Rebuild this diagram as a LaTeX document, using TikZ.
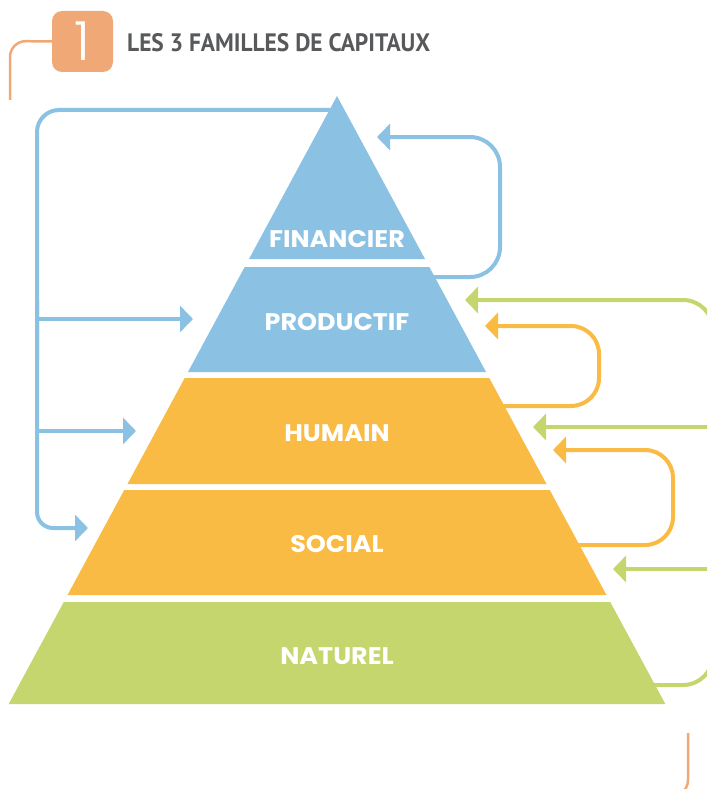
\documentclass[tikz,border=0pt]{standalone}
\usepackage{fontspec}
\setmainfont{Poppins}
\newfontfamily\headfont{PT Sans}
\newfontfamily\digitfont{Poppins Light}
\usetikzlibrary{arrows.meta}

\definecolor{capblue}{HTML}{8BC2E4}
\definecolor{capyellow}{HTML}{F9BB43}
\definecolor{capgreen}{HTML}{C4D66D}
\definecolor{caporange}{HTML}{EFA876}
\definecolor{capgray}{HTML}{58595B}

% one horizontal slice of the pyramid (apex at 337,96; flank slope 0.54)
\newcommand\capband[3]{%
  \fill[#1] ({337-0.54*(#2-96)},#2) -- ({337+0.54*(#2-96)},#2)
         -- ({337+0.54*(#3-96)},#3) -- ({337-0.54*(#3-96)},#3) -- cycle;}
% wide bold lettering for the level names
\newcommand\lvl[1]{\scalebox{1.06}[1]{#1}}

\tikzset{
  link/.style={line width=4pt, rounded corners=#1, line join=round,
               -{Triangle[length=13pt,width=26pt]}},
  link/.default=20pt,
  trunk/.style={line width=4pt, rounded corners=#1, line join=round},
  trunk/.default=20pt,
  bandlabel/.style={text=white, inner sep=0pt,
                    font=\bfseries\fontsize{24}{24}\selectfont},
  frameline/.style={draw=caporange, line width=2.5pt, rounded corners=16pt},
}

\begin{document}
\begin{tikzpicture}[x=1pt,y=-1pt]
\useasboundingbox (0,0) rectangle (707,789);
\clip (0,0) rectangle (707,789);

% ---------- header ----------
\node[fill=caporange, rounded corners=10pt, minimum width=61pt,
      minimum height=61pt, inner sep=0pt] (num) at (82.5,41.5) {};
\node[text=white, inner sep=0pt, font=\digitfont\fontsize{54}{54}\selectfont]
      (numtext) at (num.center) {1};
\node[anchor=west, inner sep=0pt, text=capgray, font=\headfont\bfseries]
      (title) at (127,42.5)
      {\resizebox{303pt}{18pt}{LES 3 FAMILLES DE CAPITAUX}};
\coordinate (frameTL) at (10,100);
\draw[frameline] (num.west) -- (10,41) -- (frameTL);
\coordinate (frameBR) at (688,733);
\draw[frameline] (frameBR) -- (688,796) -- (670,796);

% ---------- connector end points ----------
\coordinate (finTop)  at (330,110);
\coordinate (toProdL) at (193,319);
\coordinate (toHumL)  at (136,431);
\coordinate (toSocL)  at (88,528);
\coordinate (prodOut) at (430,277);
\coordinate (toFinR)  at (377,137);
\coordinate (humOut)  at (500,406);
\coordinate (toProdR) at (485,326);
\coordinate (socOut)  at (575,545);
\coordinate (toHumR)  at (553,450);
\coordinate (natOut)  at (650,685);
\coordinate (toProdG) at (465,300);
\coordinate (toHumG)  at (533,427);
\coordinate (toSocG)  at (613,569);

% ---------- blue: financial capital feeds the lower levels ----------
\draw[trunk=22pt, capblue] (finTop) -- (37,110) -- (37,360);
\draw[link=16pt, capblue] (37,300) -- (37,528) -- (toSocL);
\draw[link, capblue] (37,319) -- (toProdL);
\draw[link, capblue] (37,431) -- (toHumL);
\draw[link=30pt, capblue] (prodOut) -- (500,277) -- (500,137) -- (toFinR);

% ---------- yellow loops ----------
\draw[link=28pt, capyellow] (humOut) -- (599,406) -- (599,326) -- (toProdR);
\draw[link=28pt, capyellow] (socOut) -- (673,545) -- (673,450) -- (toHumR);

% ---------- green: natural capital ----------
\draw[link=30pt, capgreen] (natOut) -- (713,685) -- (713,300) -- (toProdG);
\draw[link, capgreen] (713,427) -- (toHumG);
\draw[link, capgreen] (713,569) -- (toSocG);

% ---------- pyramid ----------
\capband{capblue}{96}{259}
\capband{capblue}{267}{372}
\capband{capyellow}{378}{484}
\capband{capyellow}{490}{595}
\capband{capgreen}{602}{704}

\node[bandlabel] (fin)  at (337,239) {\lvl{FINANCIER}};
\node[bandlabel] (prod) at (337,322) {\lvl{PRODUCTIF}};
\node[bandlabel] (hum)  at (337,433) {\lvl{HUMAIN}};
\node[bandlabel] (soc)  at (337,544) {\lvl{SOCIAL}};
\node[bandlabel] (nat)  at (337,656) {\lvl{NATUREL}};
\end{tikzpicture}
\end{document}
